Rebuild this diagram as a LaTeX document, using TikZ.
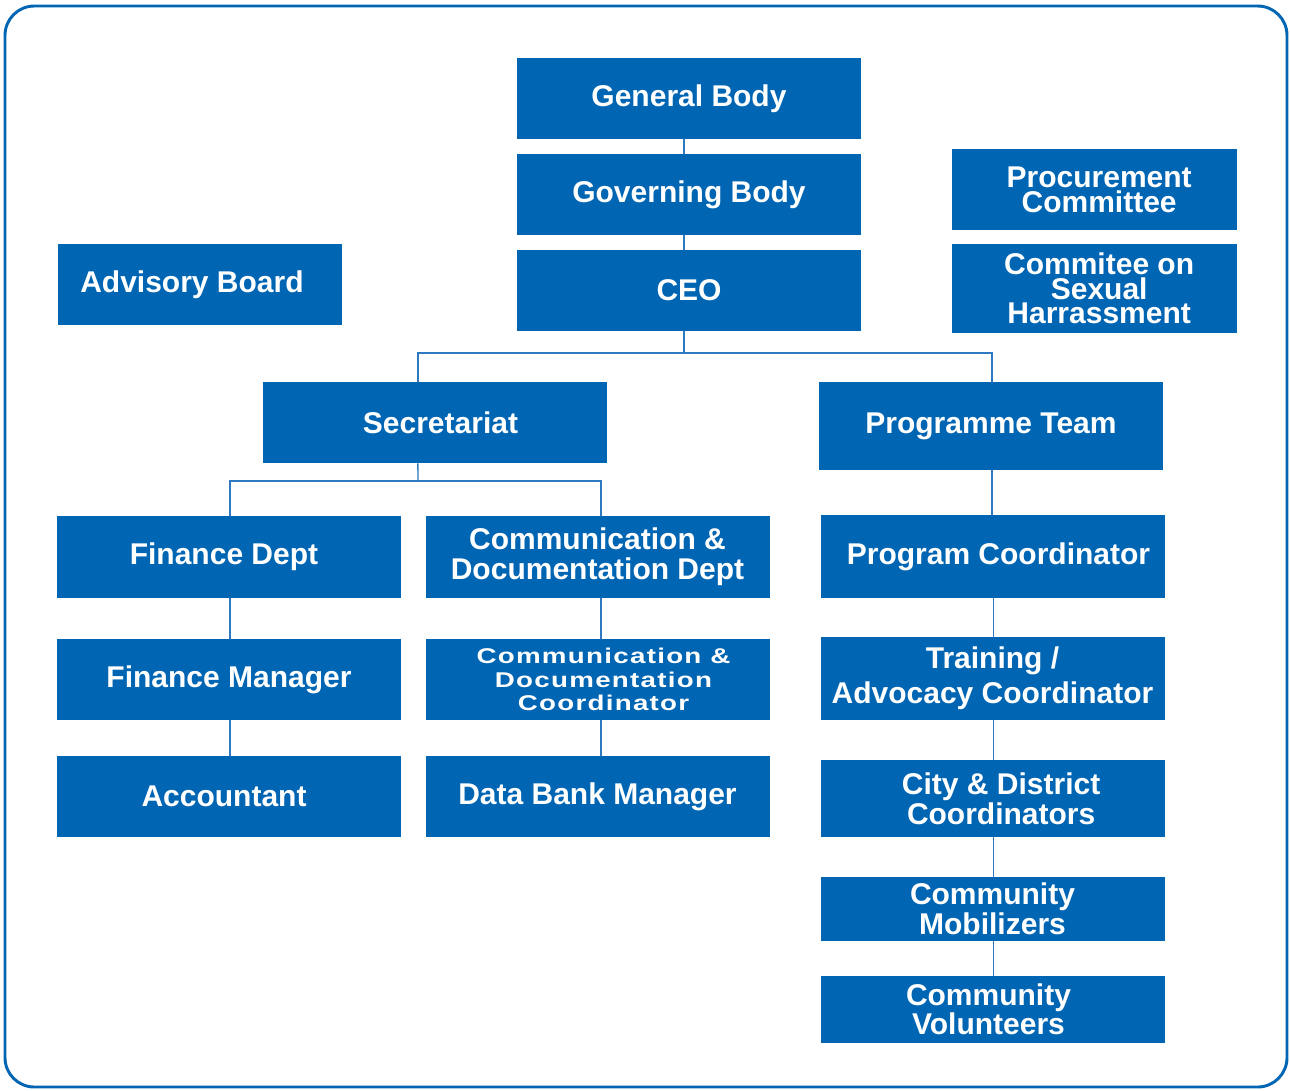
\documentclass[tikz,border=0pt]{standalone}
\usepackage{fontspec}
\setmainfont{Liberation Sans}
\definecolor{orgblue}{RGB}{0,101,179}
\definecolor{linkblue}{RGB}{45,122,192}
\tikzset{
  orgbox/.style={fill=orgblue, text=white, inner sep=0pt, align=center, minimum width=258pt, minimum height=60.75pt, font=\fontsize{22.5}{22.5}\selectfont\bfseries},
  sidebox/.style={orgbox, minimum width=213.5pt},
  link/.style={draw=linkblue, line width=1.1pt},
}
\begin{document}
\begin{tikzpicture}[x=0.75pt,y=0.75pt,yscale=-1,xscale=1]
\useasboundingbox (0,0) rectangle (1290,1090);

%Shape: Frame
\draw [orgblue, line width=2.2pt, rounded corners=22pt] (5,6) rectangle (1287,1087);

%Top chain
\node [orgbox] (gen) at (689,98.5) {General Body};
\node [orgbox] (gov) at (689,194.5) {Governing Body};
\node [orgbox] (ceo) at (689,290.5) {CEO};

%Side boxes
\node [sidebox, minimum width=213pt] (adv) at (200,284.5) {Advisory Board\hspace*{12pt}};
\node [sidebox, font=\fontsize{22.5}{18.75}\selectfont\bfseries] (proc) at (1094.5,189.5) {\hspace*{7pt}Procurement\\\hspace*{7pt}Committee};
\node [sidebox, minimum height=66.75pt, font=\fontsize{22.5}{18.4}\selectfont\bfseries] (harass) at (1094.5,288.5) {\hspace*{7pt}Commitee on\\\hspace*{7pt}Sexual\\\hspace*{7pt}Harrassment};

%Second level
\node [orgbox] (sec) at (434.5,422.5) {\hspace*{9pt}Secretariat};
\node [orgbox, minimum height=66pt] (prog) at (991,426) {Programme Team};

%Secretariat branch
\node [orgbox, minimum height=61.5pt] (fin) at (229,557) {Finance Dept\hspace*{7.5pt}};
\node [orgbox, minimum height=61.5pt] (comm) at (597.5,557) {Communication \&\\Documentation Dept};
\node [orgbox] (finm) at (229,679.5) {Finance Manager};
\node [orgbox, font=\fontsize{16}{17.6}\selectfont\bfseries\addfontfeature{FakeStretch=1.3,LetterSpace=6}] (commc) at (597.5,679.5) {\hspace*{9pt}Communication \&\\\hspace*{9pt}Documentation\\\hspace*{9pt}Coordinator};
\node [orgbox] (acc) at (229,796.5) {Accountant\hspace*{7.5pt}};
\node [orgbox] (data) at (597.5,796.5) {Data Bank Manager};

%Programme branch
\node [orgbox, minimum height=62.25pt] (pc) at (992.5,556.5) {\hspace*{9pt}Program Coordinator};
\node [orgbox, minimum height=62.25pt, font=\fontsize{22.5}{26}\selectfont\bfseries] (tac) at (992.5,678.5) {Training /\\Advocacy Coordinator};
\node [orgbox, minimum height=57.75pt] (city) at (992.5,798.5) {\hspace*{13pt}City \& District\\\hspace*{13pt}Coordinators};
\node [orgbox, minimum height=48pt] (mob) at (992.5,909) {Community\\Mobilizers\hspace*{0pt}};
\node [orgbox, minimum height=50.25pt, font=\fontsize{22.5}{18.75}\selectfont\bfseries] (vol) at (992.5,1009.5) {Community\hspace*{6pt}\\Volunteers\hspace*{6pt}};

%Connectors
\draw [link] ([xshift=-3.75pt]gen.south) -- ([xshift=-3.75pt]gov.north);
\draw [link] ([xshift=-3.75pt]gov.south) -- ([xshift=-3.75pt]ceo.north);
\coordinate (ceosplit) at (684,353);
\draw [link] ([xshift=-3.75pt]ceo.south) -- (ceosplit);
\draw [link] (ceosplit) -| ([xshift=-12.4pt]sec.north);
\draw [link] (ceosplit) -| ([xshift=0.75pt]prog.north);
\coordinate (secsplit) at (418,481);
\draw [link] ([xshift=-12.4pt]sec.south) -- (secsplit);
\draw [link] (secsplit) -| ([xshift=0.75pt]fin.north);
\draw [link] (secsplit) -| ([xshift=2.6pt]comm.north);
\foreach \a/\b in {fin/finm, finm/acc}
  \draw [link] ([xshift=0.75pt]\a.south) -- ([xshift=0.75pt]\b.north);
\foreach \a/\b in {comm/commc, commc/data}
  \draw [link] ([xshift=2.6pt]\a.south) -- ([xshift=2.6pt]\b.north);
\foreach \a/\b in {prog/pc, pc/tac, tac/city, city/mob, mob/vol}
  \draw [link] ([xshift=0.75pt]\a.south) -- ([xshift=0.75pt]\a.south |- \b.north);
\end{tikzpicture}
\end{document}
